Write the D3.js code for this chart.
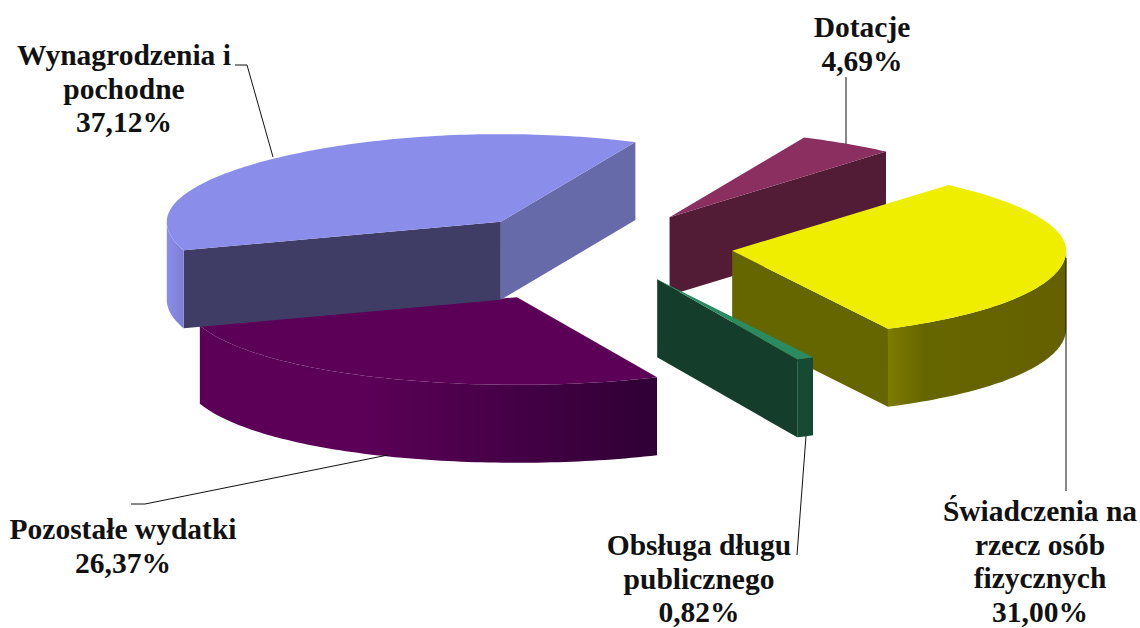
<!DOCTYPE html>
<html><head><meta charset="utf-8">
<script src="https://cdn.jsdelivr.net/npm/d3@7"></script>
<style>html,body{margin:0;background:#fff}svg{display:block}
text{font-family:"Liberation Serif",serif;font-weight:700;font-size:29.5px;fill:#111}</style></head>
<body><svg id="c" width="1140" height="628"></svg>
<script>
const categories=["Wynagrodzenia i pochodne","Dotacje","Świadczenia na rzecz osób fizycznych","Obsługa długu publicznego","Pozostałe wydatki"];
const values=[37.12,4.69,31.00,0.82,26.37];
const labelLines=[["Wynagrodzenia i","pochodne","37,12%"],["Dotacje","4,69%"],["Świadczenia na","rzecz osób","fizycznych","31,00%"],["Obsługa długu","publicznego","0,82%"],["Pozostałe wydatki","26,37%"]];
const explode=[.42,.42,.42,.42,.6];
const nudge=[[0,0],[-2,-1],[-2,-3],[2,-3],[2,0]];
const topColors=["#8b8deb","#8a2f60","#efee00","#2a8a60","#5c0057"];
const cutColors=["#3f3d66","#521c36","#666600","#143d2c","#400040"];
const cutColors2=["#676aa8","#521c36","#666600","#143d2c","#400040"];
const wallFrom=["#8b8deb","#6a2548","#7c7c00","#164a32","#5c0057"];
const wallMid=["#8486e0","#6a2548","#666600","#164a32","#5c0057"];
const wallTo=["#7d7fd5","#6a2548","#656000","#164a32","#2f0035"];
const wallMidAt=[.5,.5,.2,.5,.35];
const labelPos=[[124,65],[862,37],[1040,521],[699,555],[123,539]];
const leaders=[[[235,65],[247,65],[273,157]],[[846,77],[846,144]],[[1066,258],[1066,491]],[[806,436],[797,555]],[[388,455],[145,504],[131,504]]];
const drawOrder=[1,4,0,2,3];

const cx=595,cy=249,rx=334,ry=87.6,depth=78,lineH=33.7,persp=.04;
const svg=d3.select("#c"),defs=svg.append("defs");
const arcs=d3.pie().sort(null).startAngle(-109*Math.PI/180).endAngle(251*Math.PI/180)(values);
const pX=d3.scaleLinear().domain([-1,1]).range([-rx,rx]);
const pY=d3.scaleLinear().domain([-1,1]).range([-ry,ry]);
const pt=(o,a,dy=0)=>{const c=Math.cos(a);return [o[0]+pX(Math.sin(a))*(1-persp*c*Math.abs(c)),o[1]-pY(c)+dy];};
const line=d3.line();
function arcPts(o,a0,a1,dy=0){const n=Math.max(2,Math.ceil(Math.abs(a1-a0)/0.02));return d3.range(n+1).map(i=>pt(o,a0+(a1-a0)*i/n,dy));}
drawOrder.forEach(i=>{
  const d=arcs[i],a0=d.startAngle,a1=d.endAngle,e=explode[i],mid=(a0+a1)/2;
  const o=[cx+e*pX(Math.sin(mid))+nudge[i][0],cy-e*pY(Math.cos(mid))+nudge[i][1]];
  const g=svg.append("g");
  const base=[o[0],o[1]+depth];
  if(Math.sin(a0)<0){const p=pt(o,a0);g.append("path").attr("d",line([o,p,[p[0],p[1]+depth],base])+"Z").attr("fill",cutColors[i]);}
  if(Math.sin(a1)>0){const p=pt(o,a1);g.append("path").attr("d",line([o,p,[p[0],p[1]+depth],base])+"Z").attr("fill",cutColors2[i]);}
  // outer wall: only the part facing the viewer
  [0,-2*Math.PI].forEach((shift,k)=>{
    const vis0=Math.max(a0,Math.PI/2+shift),vis1=Math.min(a1,3*Math.PI/2+shift);
    if(vis1<=vis0)return;
    const top=arcPts(o,vis0,vis1),bot=arcPts(o,vis1,vis0,depth);
    const xs=top.map(p=>p[0]);
    const id="w"+i+"_"+k;
    const gr=defs.append("linearGradient").attr("id",id).attr("gradientUnits","userSpaceOnUse")
      .attr("x1",d3.min(xs)).attr("x2",d3.max(xs)).attr("y1",0).attr("y2",0);
    gr.append("stop").attr("offset",0).attr("stop-color",wallFrom[i]);
    gr.append("stop").attr("offset",wallMidAt[i]).attr("stop-color",wallMid[i]);
    gr.append("stop").attr("offset",1).attr("stop-color",wallTo[i]);
    g.append("path").attr("d",line(top.concat(bot))+"Z").attr("fill",`url(#${id})`);
  });
  g.append("path").attr("d",line([o].concat(arcPts(o,a0,a1)))+"Z").attr("fill",topColors[i]);
});
leaders.forEach(l=>svg.append("path").attr("d",line(l)).attr("fill","none").attr("stroke","#111").attr("stroke-width",1));
labelLines.forEach((ls,i)=>{
  const t=svg.append("text").attr("text-anchor","middle");
  ls.forEach((s,j)=>t.append("tspan").attr("x",labelPos[i][0]).attr("y",labelPos[i][1]+j*lineH).text(s));
});
</script></body></html>
